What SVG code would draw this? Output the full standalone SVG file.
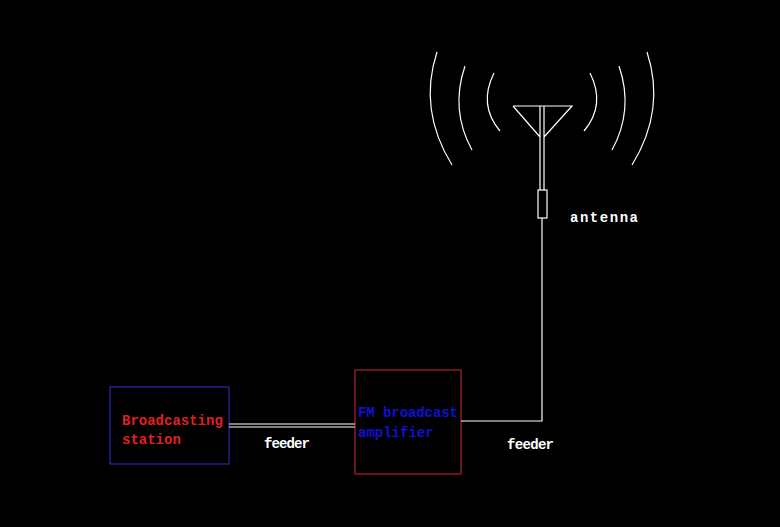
<svg xmlns="http://www.w3.org/2000/svg" width="780" height="527" viewBox="0 0 780 527">
<style>
.w{fill:none;stroke:#fff;stroke-width:1.2}
.t{font-family:"Liberation Mono",monospace;font-weight:bold;font-size:14px}
</style>
<rect width="780" height="527" fill="#000"/>
<g id="antenna">
<path class="w" d="M513,106 L572,106 L544,137 M540,137 L513,106 M540,106 V190 M544,106 V190"/>
<rect class="w" x="538" y="190" width="9" height="28"/>
<path class="w" d="M437,52 Q418,110 452,165 M465,66 Q450,110 472,150 M494,73 Q478,105 500,131"/>
<path class="w" d="M647,52 Q666,110 632,165 M619,66 Q634,110 612,150 M590,73 Q606,105 584,131"/>
<text class="t" x="570" y="222" fill="#fff" font-size="15" textLength="68">antenna</text>
</g>
<g id="station">
<rect x="110" y="387" width="119" height="77" fill="none" stroke="#3030d0"/>
<text class="t" x="122" y="425" fill="#e02020">Broadcasting</text>
<text class="t" x="122" y="444" fill="#e02020">station</text>
</g>
<g id="amplifier">
<rect x="355" y="370" width="106" height="104" fill="none" stroke="#d02838"/>
<text class="t" x="358" y="417" fill="#1010d0" textLength="100">FM broadcast</text>
<text class="t" x="358" y="437" fill="#1010d0">amplifier</text>
</g>
<g id="connectors">
<path class="w" d="M229,424 H355 M229,427 H355"/>
<path class="w" d="M542,218 V421 H461"/>
<text class="t" x="264" y="448" fill="#fff" textLength="46">feeder</text>
<text class="t" x="507" y="449" fill="#fff" textLength="47">feeder</text>
</g>
</svg>
